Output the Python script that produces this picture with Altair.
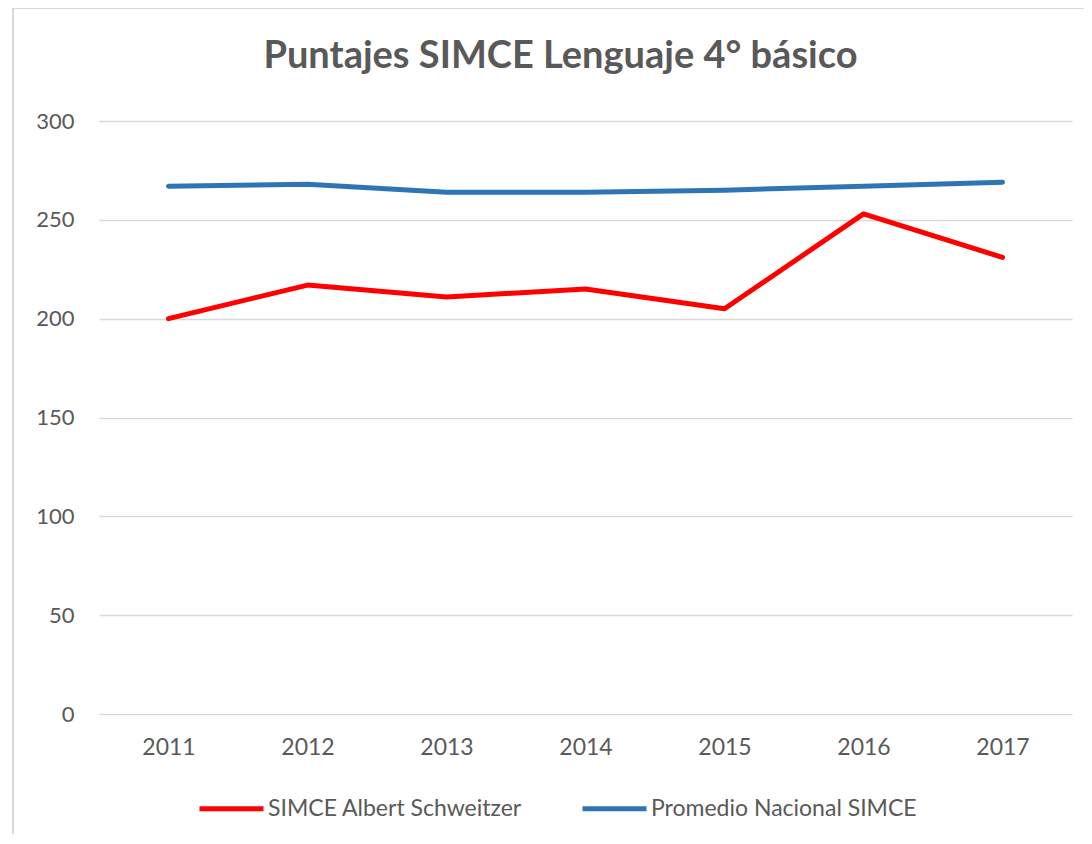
import altair as alt
import pandas as pd

years = ["2011", "2012", "2013", "2014", "2015", "2016", "2017"]
escuela = [200, 217, 211, 215, 205, 253, 231]
nacional = [267, 268, 264, 264, 265, 267, 269]
series_names = ["SIMCE Albert Schweitzer", "Promedio Nacional SIMCE"]
series_colors = ["#FF0000", "#2E75B6"]
y_ticks = [0, 50, 100, 150, 200, 250, 300]

rows = []
for yr, v in zip(years, escuela):
    rows.append({"Año": yr, "Serie": series_names[0], "Puntaje": v})
for yr, v in zip(years, nacional):
    rows.append({"Año": yr, "Serie": series_names[1], "Puntaje": v})
df = pd.DataFrame(rows)

FONT = "Lato"
GRAY = "#595959"

lines = alt.Chart(df).mark_line(strokeWidth=5, strokeCap="round", strokeJoin="round").encode(
    x=alt.X("Año:N", sort=years,
            scale=alt.Scale(type="point", padding=0.5),
            axis=alt.Axis(title=None, labelAngle=0, ticks=False, domain=False,
                          labelPadding=22, labelFontSize=23, labelColor=GRAY, labelFont=FONT,
                          grid=False)),
    y=alt.Y("Puntaje:Q", scale=alt.Scale(domain=[0, 300], nice=False),
            axis=alt.Axis(title=None, values=y_ticks, ticks=False, domain=False,
                          labelPadding=25, labelFontSize=22, labelColor=GRAY, labelFont=FONT,
                          gridColor="#D9D9D9", gridWidth=1.5)),
    color=alt.Color("Serie:N", sort=series_names,
                    scale=alt.Scale(domain=series_names, range=series_colors),
                    legend=alt.Legend(title=None, orient="none", direction="horizontal",
                                      legendX=98, legendY=653,
                                      symbolType="stroke", symbolSize=4096, symbolStrokeWidth=5,
                                      labelFontSize=23, labelColor=GRAY, labelFont=FONT,
                                      labelLimit=0, labelOffset=2, columnPadding=50)),
)

frame = alt.Chart(pd.DataFrame({"k": [0]})).mark_rect(
    fill=None, stroke="#D9D9D9", strokeWidth=2
).encode(x=alt.value(-86), x2=alt.value(1000), y=alt.value(-113), y2=alt.value(720))

chart = alt.layer(frame, lines).properties(
    width=973, height=593,
    title=alt.TitleParams("Puntajes SIMCE Lenguaje 4° básico", fontSize=38, font=FONT,
                          fontWeight="bold", color=GRAY, anchor="middle", frame="group",
                          dx=-25, offset=-69),
    autosize=alt.AutoSizeParams(type="none"),
    padding={"left": 91, "top": 113, "right": 12, "bottom": 120},
).configure_view(stroke=None)

chart.save("out.html", embed_options={"renderer": "svg", "actions": False})
